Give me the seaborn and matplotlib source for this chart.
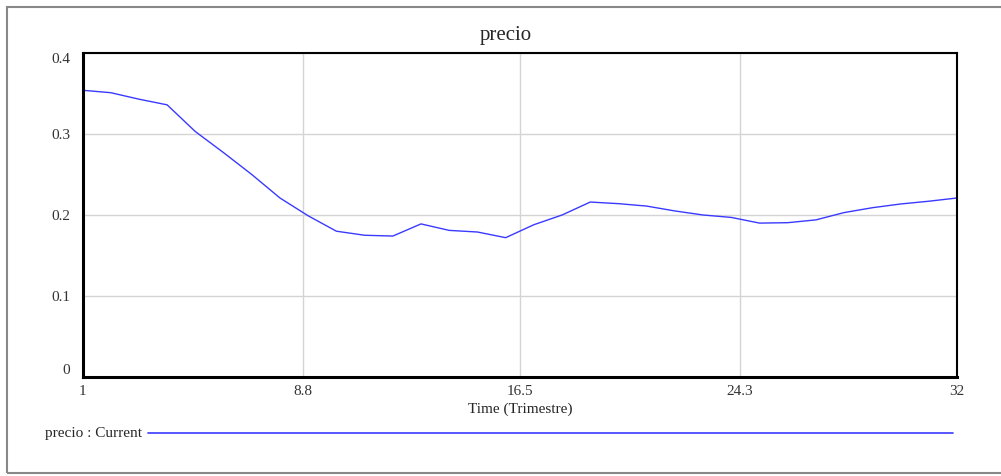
import pandas as pd
import numpy as np
import matplotlib.pyplot as plt
import seaborn as sns
from matplotlib.patches import Rectangle
from matplotlib.lines import Line2D

# ---------------- DATA ----------------
time = list(range(1, 33))
precio = [0.354, 0.351, 0.343, 0.336, 0.303, 0.277, 0.250, 0.221,
          0.199, 0.180, 0.175, 0.174, 0.189, 0.181, 0.179, 0.172,
          0.188, 0.200, 0.216, 0.214, 0.211, 0.205, 0.200, 0.197,
          0.190, 0.1905, 0.194, 0.203, 0.209, 0.2136, 0.217, 0.221]

x_ticks = [1, 8.8, 16.5, 24.3, 32]
x_tick_labels = ["1", "8.8", "16.5", "24.3", "32"]
y_ticks = [0, 0.1, 0.2, 0.3, 0.4]
y_tick_labels = ["0", "0.1", "0.2", "0.3", "0.4"]

df = pd.DataFrame({"Time": time, "precio": precio})

# ---------------- SETTINGS ----------------
sns.set_style("white")
plt.rcParams["font.family"] = ["Liberation Serif", "DejaVu Serif"]

line_color = "#3a3aff"
grid_color = "#d4d4d4"

fig = plt.figure(figsize=(10.01, 4.76), dpi=100)
ax = fig.add_axes([82.5 / 1001, 1 - 377 / 476, (957 - 82.5) / 1001, (377 - 53) / 476])

# outer frame
fig.patches.append(Rectangle((7 / 1001, 3 / 476), 1.0, 466 / 476,
                             transform=fig.transFigure, fill=False,
                             edgecolor="#888888", linewidth=1.5))

sns.lineplot(data=df, x="Time", y="precio", ax=ax, color=line_color,
             linewidth=1.0)

ax.set_xlim(1, 32)
ax.set_ylim(0, 0.4)
ax.set_xticks(x_ticks)
ax.set_xticklabels(x_tick_labels)
ax.set_yticks(y_ticks)
ax.set_yticklabels(y_tick_labels)

ax.grid(True, color=grid_color, linewidth=1.0)
ax.tick_params(axis="both", length=0, labelsize=11, colors="#333333")
ax.tick_params(axis="y", pad=9)
ax.tick_params(axis="x", pad=6)

ylabels = ax.get_yticklabels()
ylabels[0].set_va("bottom")
ylabels[-1].set_va("top")

for side in ["top", "right"]:
    ax.spines[side].set_linewidth(1.5)
    ax.spines[side].set_color("black")
for side in ["left", "bottom"]:
    ax.spines[side].set_linewidth(2.2)
    ax.spines[side].set_color("black")

ax.set_title("precio", fontsize=15, pad=9, x=0.484)
ax.set_xlabel("Time (Trimestre)", fontsize=11, labelpad=3)
ax.set_ylabel("")

# legend row
fig.text(45 / 1001, 1 - 433 / 476, "precio : Current", fontsize=11,
         va="center", ha="left")
fig.lines.append(Line2D([148 / 1001, 953 / 1001], [1 - 433 / 476, 1 - 433 / 476],
                        transform=fig.transFigure, color=line_color, linewidth=1.2))

plt.savefig("out.png", dpi=100)
plt.close()
